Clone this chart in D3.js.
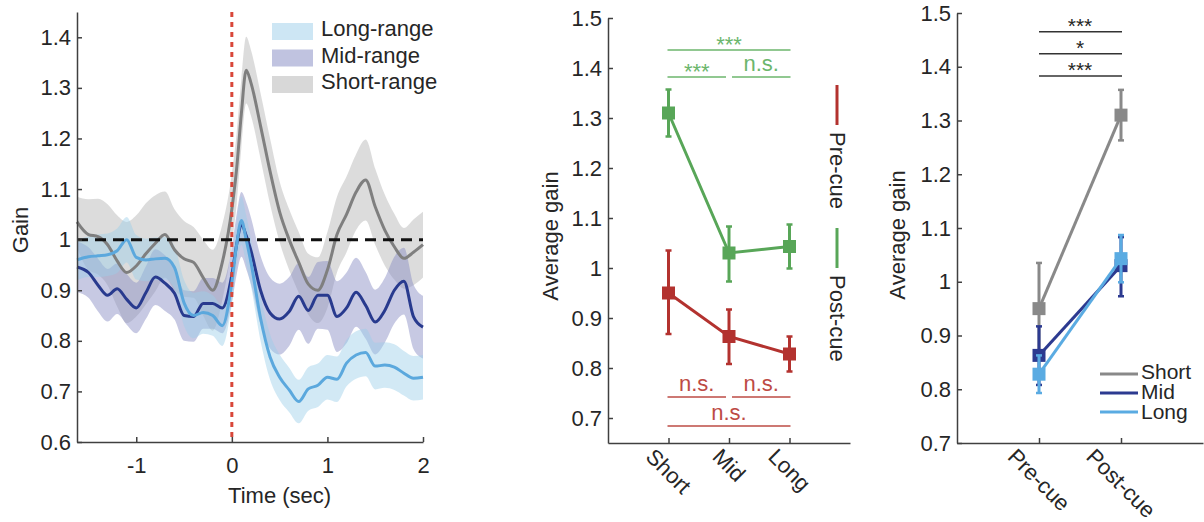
<!DOCTYPE html>
<html>
<head>
<meta charset="utf-8">
<script src="https://cdn.jsdelivr.net/npm/d3@7"></script>
<style>
body { margin: 0; background: #fff; }
text { font-family: "Liberation Sans", Arial, sans-serif; fill: #262626; }
</style>
</head>
<body>
<svg id="chart" width="1204" height="522"></svg>
<script>
// gain time course (sec)
var times = [-1.62, -1.5, -1.4, -1.3, -1.2, -1.1, -1.0, -0.9, -0.8, -0.7, -0.6, -0.5, -0.4, -0.3, -0.2, -0.1,
	0, 0.05, 0.1, 0.15, 0.2,
	0.3, 0.4, 0.5, 0.6, 0.7, 0.8, 0.9, 1.0, 1.1, 1.2, 1.3, 1.4, 1.5, 1.6, 1.7, 1.8, 1.9, 2.0]
var shortMean = [1.035, 1.01, 1.006, 0.99, 0.958, 0.935, 0.948, 0.972, 0.993, 1.01, 0.98, 0.962, 0.955, 0.925, 0.9, 0.955,
	1.06, 1.14, 1.25, 1.335, 1.31,
	1.225, 1.135, 1.055, 1.0, 0.955, 0.912, 0.9, 0.94, 1.01, 1.05, 1.094, 1.118, 1.065, 1.019, 0.986, 0.963, 0.975, 0.99]
var shortSem = [0.05, 0.07, 0.075, 0.08, 0.09, 0.1, 0.1, 0.1, 0.095, 0.085, 0.08, 0.075, 0.07, 0.075, 0.08, 0.075,
	0.07, 0.07, 0.068, 0.066, 0.065,
	0.065, 0.065, 0.06, 0.06, 0.06, 0.06, 0.065, 0.075, 0.075, 0.075, 0.075, 0.08, 0.075, 0.07, 0.065, 0.06, 0.065, 0.065]
var midMean = [0.946, 0.935, 0.91, 0.89, 0.903, 0.882, 0.865, 0.895, 0.926, 0.914, 0.894, 0.85, 0.848, 0.874, 0.874, 0.865,
	0.93, 0.99, 1.03, 1.008, 0.978,
	0.9, 0.855, 0.843, 0.858, 0.888, 0.86, 0.89, 0.89, 0.848, 0.865, 0.896, 0.87, 0.837, 0.86, 0.9, 0.918, 0.848, 0.827]
var midSem = [0.05, 0.05, 0.052, 0.052, 0.05, 0.05, 0.05, 0.052, 0.055, 0.055, 0.052, 0.05, 0.05, 0.05, 0.05, 0.05,
	0.055, 0.06, 0.064, 0.066, 0.066,
	0.068, 0.07, 0.07, 0.068, 0.066, 0.066, 0.066, 0.068, 0.07, 0.07, 0.068, 0.066, 0.064, 0.064, 0.066, 0.066, 0.064, 0.062]
var longMean = [0.96, 0.966, 0.968, 0.97, 0.978, 1.0, 0.965, 0.96, 0.962, 0.963, 0.945, 0.875, 0.85, 0.856, 0.85, 0.83,
	0.915, 0.99, 1.038, 1.0, 0.955,
	0.845, 0.768, 0.728, 0.703, 0.68, 0.705, 0.712, 0.728, 0.724, 0.756, 0.772, 0.777, 0.75, 0.752, 0.748, 0.736, 0.726, 0.728]
var longSem = [0.04, 0.04, 0.042, 0.042, 0.044, 0.045, 0.044, 0.042, 0.042, 0.042, 0.042, 0.045, 0.045, 0.042, 0.04, 0.04,
	0.042, 0.045, 0.048, 0.048, 0.046,
	0.045, 0.045, 0.045, 0.044, 0.043, 0.043, 0.043, 0.044, 0.045, 0.046, 0.047, 0.047, 0.046, 0.045, 0.045, 0.044, 0.044, 0.044]
var rangeNames = ["Long-range", "Mid-range", "Short-range"]
var gainTicks = [0.6, 0.7, 0.8, 0.9, 1, 1.1, 1.2, 1.3, 1.4]
var timeTicks = [-1, 0, 1, 2]

// average gain per condition
var categories = ["Short", "Mid", "Long"]
var periods = ["Pre-cue", "Post-cue"]
var preMean = [0.95, 0.863, 0.828]
var preLow = [0.868, 0.808, 0.793]
var preHigh = [1.035, 0.917, 0.863]
var postMean = [1.31, 1.03, 1.043]
var postLow = [1.263, 0.973, 0.999]
var postHigh = [1.357, 1.083, 1.087]
var avgTicks = [0.7, 0.8, 0.9, 1, 1.1, 1.2, 1.3, 1.4, 1.5]

// significance marks
var postSigPairs = [[0, 2], [0, 1], [1, 2]]
var postSigY = [1.436, 1.382, 1.382]
var postSigLabels = ["***", "***", "n.s."]
var preSigPairs = [[0, 1], [1, 2], [0, 2]]
var preSigY = [0.742, 0.742, 0.684]
var preSigLabels = ["n.s.", "n.s.", "n.s."]
var cueSigY = [1.465, 1.424, 1.383]
var cueSigLabels = ["***", "*", "***"]
var legendNames = ["Short", "Mid", "Long"]

var chart = d3.select("#chart")
var AXIS = "#404040"
var gainFmt = d => d === 1 ? "1" : d.toFixed(1)

function styleAxis(g) {
	g.select(".domain").attr("stroke", AXIS).attr("stroke-width", 1.5)
	g.selectAll(".tick line").attr("stroke", AXIS).attr("stroke-width", 1.5)
	g.selectAll(".tick text").attr("fill", "#262626").attr("font-size", "22px")
		.attr("font-family", "Liberation Sans, Arial, sans-serif")
}

function yLabel(x, y, txt) {
	chart.append("text")
		.attr("transform", "translate(" + x + "," + y + ") rotate(-90)")
		.attr("text-anchor", "middle")
		.attr("font-size", "22px")
		.text(txt)
}

function slantLabels(xs, names, axisY) {
	names.forEach((n, i) => {
		var t = chart.append("text")
			.attr("text-anchor", "middle")
			.attr("dominant-baseline", "central")
			.attr("font-size", "22px")
			.text(n)
		var L = t.node().getComputedTextLength()
		var half = (L + 16) / Math.SQRT2 / 2
		t.attr("transform", "translate(" + xs(i + 1) + "," + (axisY + 4 + half) + ") rotate(45)")
	})
}

// ---------- panel 1: gain over time ----------
var x1 = d3.scaleLinear().domain([-1.62, 2]).range([77, 423])
var y1 = d3.scaleLinear().domain([0.6, 1.45]).range([442, 12])

var series = [
	{ mean: shortMean, sem: shortSem, line: "#7f7f7f", band: "#b1b1b1" },
	{ mean: midMean, sem: midSem, line: "#283a8e", band: "#8288c2" },
	{ mean: longMean, sem: longSem, line: "#5ba8dd", band: "#9ccee9" }
]
var p1 = chart.append("g")

series.forEach(s => {
	var area = d3.area()
		.x((d, i) => x1(times[i]))
		.y0((d, i) => y1(s.mean[i] - s.sem[i]))
		.y1((d, i) => y1(s.mean[i] + s.sem[i]))
		.curve(d3.curveMonotoneX)
	p1.append("path").datum(times)
		.attr("d", area)
		.attr("fill", s.band)
		.attr("fill-opacity", 0.45)
})
series.forEach(s => {
	var line = d3.line()
		.x((d, i) => x1(times[i]))
		.y(d => y1(d))
		.curve(d3.curveMonotoneX)
	p1.append("path").datum(s.mean)
		.attr("d", line)
		.attr("fill", "none")
		.attr("stroke", s.line)
		.attr("stroke-width", 3)
})

p1.append("line")
	.attr("x1", x1(-1.62)).attr("x2", x1(2))
	.attr("y1", y1(1)).attr("y2", y1(1))
	.attr("stroke", "#111").attr("stroke-width", 3)
	.attr("stroke-dasharray", "11,7")
p1.append("line")
	.attr("x1", x1(0)).attr("x2", x1(0))
	.attr("y1", y1(1.45)).attr("y2", y1(0.6))
	.attr("stroke", "#d8473a").attr("stroke-width", 3)
	.attr("stroke-dasharray", "5,5")

chart.append("g").attr("transform", "translate(77,0)")
	.call(d3.axisLeft(y1).tickValues(gainTicks).tickFormat(gainFmt).tickSizeInner(-5).tickSizeOuter(0).tickPadding(6))
	.call(styleAxis)
chart.append("g").attr("transform", "translate(0,442)")
	.call(d3.axisBottom(x1).tickValues(timeTicks).tickFormat(d => String(d)).tickSizeInner(-5).tickSizeOuter(0).tickPadding(15))
	.call(styleAxis)

chart.append("text")
	.attr("x", x1(0.5)).attr("y", 503)
	.attr("text-anchor", "middle")
	.attr("font-size", "22px")
	.text("Time (sec)")
yLabel(28, 230, "Gain")

// legend
var legendBands = [series[2], series[1], series[0]]
rangeNames.forEach((n, i) => {
	chart.append("rect")
		.attr("x", 272).attr("y", 23 + i * 26.5)
		.attr("width", 41).attr("height", 17)
		.attr("fill", legendBands[i].band)
		.attr("fill-opacity", 0.5)
	chart.append("text")
		.attr("x", 321).attr("y", 36 + i * 26.5)
		.attr("font-size", "22px")
		.text(n)
})

// ---------- panel 2: average gain by range ----------
var x2 = d3.scaleLinear().domain([0, 4]).range([608, 850])
var y2 = d3.scaleLinear().domain([0.65, 1.5]).range([443, 18])

var cueSeries = [
	{ mean: preMean, lo: preLow, hi: preHigh, color: "#b3322f", sig: "#bd4b45", pairs: preSigPairs, sy: preSigY, labels: preSigLabels },
	{ mean: postMean, lo: postLow, hi: postHigh, color: "#58a658", sig: "#6cb66c", pairs: postSigPairs, sy: postSigY, labels: postSigLabels }
]
var p2 = chart.append("g")

function drawPoints(g, xs, ys, mean, lo, hi, color, offset) {
	g.append("path").datum(mean)
		.attr("d", d3.line().x((d, i) => xs(i + offset)).y(d => ys(d)))
		.attr("fill", "none")
		.attr("stroke", color)
		.attr("stroke-width", 3)
	mean.forEach((m, i) => {
		var cx = xs(i + offset)
		g.append("line")
			.attr("x1", cx).attr("x2", cx)
			.attr("y1", ys(lo[i])).attr("y2", ys(hi[i]))
			.attr("stroke", color).attr("stroke-width", 3)
		;[lo[i], hi[i]].forEach(v => {
			g.append("line")
				.attr("x1", cx - 3).attr("x2", cx + 3)
				.attr("y1", ys(v)).attr("y2", ys(v))
				.attr("stroke", color).attr("stroke-width", 2.5)
		})
		g.append("rect")
			.attr("x", cx - 6.5).attr("y", ys(m) - 6.5)
			.attr("width", 13).attr("height", 13)
			.attr("fill", color)
	})
}

cueSeries.forEach(s => {
	drawPoints(p2, x2, y2, s.mean, s.lo, s.hi, s.color, 1)
	s.pairs.forEach((pr, k) => {
		var a = x2(pr[0] + 1) - 1, b = x2(pr[1] + 1) + 1
		if (pr[1] - pr[0] === 1) {
			if (pr[0] === 0) b -= 4
			else a += 4
		}
		var ly = y2(s.sy[k])
		p2.append("line")
			.attr("x1", a).attr("x2", b)
			.attr("y1", ly).attr("y2", ly)
			.attr("stroke", s.sig).attr("stroke-width", 1.5)
		var star = s.labels[k].indexOf("*") >= 0
		p2.append("text")
			.attr("x", (a + b) / 2).attr("y", star ? ly + 2 : ly - 6)
			.attr("text-anchor", "middle")
			.attr("font-size", "22px")
			.style("fill", s.sig)
			.text(s.labels[k])
	})
})

chart.append("g").attr("transform", "translate(608,0)")
	.call(d3.axisLeft(y2).tickValues(avgTicks).tickFormat(gainFmt).tickSizeInner(-5).tickSizeOuter(0).tickPadding(6))
	.call(styleAxis)
chart.append("g").attr("transform", "translate(0,443)")
	.call(d3.axisBottom(x2).tickValues([1, 2, 3]).tickFormat("").tickSizeInner(-5).tickSizeOuter(0))
	.call(styleAxis)
slantLabels(x2, categories, 443)
yLabel(558, 236, "Average gain")

// vertical legend
var legY = [85, 228]
periods.forEach((n, i) => {
	chart.append("line")
		.attr("x1", 837).attr("x2", 837)
		.attr("y1", legY[i]).attr("y2", legY[i] + 40)
		.attr("stroke", cueSeries[i].color).attr("stroke-width", 3)
	chart.append("text")
		.attr("transform", "translate(830," + (legY[i] + 47) + ") rotate(90)")
		.attr("font-size", "22px")
		.text(n)
})

// ---------- panel 3: pre vs post ----------
var x3 = d3.scaleLinear().domain([0, 3]).range([957, 1203])
var y3 = d3.scaleLinear().domain([0.7, 1.5]).range([443, 13])
var rangeColors = ["#898989", "#2c3a90", "#5aabe2"]
var p3 = chart.append("g")

categories.forEach((c, i) => {
	drawPoints(p3, x3, y3, [preMean[i], postMean[i]], [preLow[i], postLow[i]], [preHigh[i], postHigh[i]], rangeColors[i], 1)
})
cueSigY.forEach((v, k) => {
	var ly = y3(v)
	p3.append("line")
		.attr("x1", x3(1)).attr("x2", x3(2) + 1)
		.attr("y1", ly).attr("y2", ly)
		.attr("stroke", "#333").attr("stroke-width", 1.5)
	p3.append("text")
		.attr("x", (x3(1) + x3(2)) / 2).attr("y", ly + 1)
		.attr("text-anchor", "middle")
		.attr("font-size", "21px")
		.text(cueSigLabels[k])
})

chart.append("g").attr("transform", "translate(957,0)")
	.call(d3.axisLeft(y3).tickValues(avgTicks).tickFormat(gainFmt).tickSizeInner(-5).tickSizeOuter(0).tickPadding(6))
	.call(styleAxis)
chart.append("g").attr("transform", "translate(0,443)")
	.call(d3.axisBottom(x3).tickValues([1, 2]).tickFormat("").tickSizeInner(-5).tickSizeOuter(0))
	.call(styleAxis)
slantLabels(x3, periods, 443)
yLabel(905, 235, "Average gain")

legendNames.forEach((n, i) => {
	var ly = 374 + i * 19
	chart.append("line")
		.attr("x1", 1100).attr("x2", 1138)
		.attr("y1", ly).attr("y2", ly)
		.attr("stroke", rangeColors[i]).attr("stroke-width", 3)
	chart.append("text")
		.attr("x", 1141).attr("y", 379 + i * 20)
		.attr("font-size", "21px")
		.text(n)
})
</script>
</body>
</html>
